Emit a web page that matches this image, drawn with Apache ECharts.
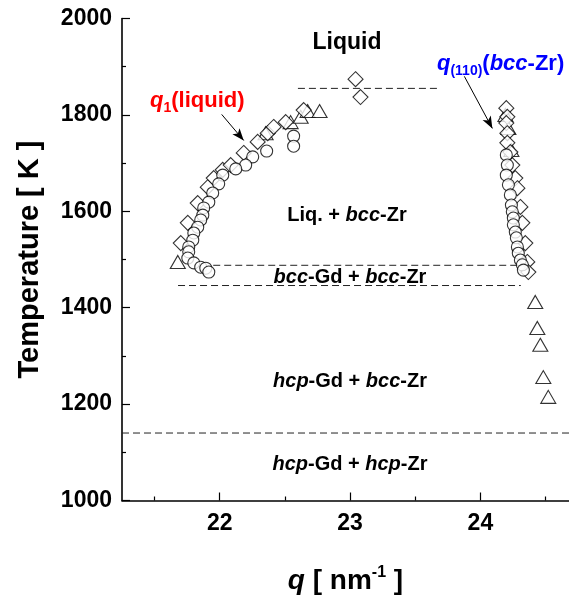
<!DOCTYPE html>
<html>
<head>
<meta charset="utf-8">
<script src="https://cdn.jsdelivr.net/npm/echarts@6/dist/echarts.min.js"></script>
<style>
  html, body { margin: 0; padding: 0; background: #fff; }
  #chart { width: 569px; height: 606px; }
</style>
</head>
<body>
<div id="chart"></div>
<script>
// ---- axis ticks ----
const xMajorTicks = [22, 23, 24];
const xMinorTicks = [21.5, 22.5, 23.5, 24.5];

// ---- q1 (liquid) branch: [q (nm^-1), T (K)] ----
const liquidCircles = [
  [22.567, 1756], [22.567, 1735], [22.360, 1725], [22.253, 1713], [22.199, 1696],
  [22.123, 1688], [22.023, 1675], [21.992, 1657], [21.946, 1638], [21.916, 1619],
  [21.877, 1607], [21.870, 1592], [21.854, 1582], [21.831, 1567], [21.801, 1555],
  [21.793, 1540], [21.762, 1526], [21.762, 1516], [21.755, 1503], [21.801, 1493],
  [21.854, 1484], [21.893, 1482], [21.916, 1474]
];
const liquidDiamonds = [
  [21.701, 1534], [21.755, 1576], [21.831, 1617], [21.908, 1650], [21.954, 1669],
  [22.023, 1686], [22.084, 1696], [22.184, 1721], [22.291, 1744], [22.368, 1762],
  [22.414, 1775], [22.506, 1785], [22.644, 1810], [23.042, 1874], [23.080, 1837]
];
const liquidTriangles = [
  [21.678, 1495], [22.352, 1762], [22.544, 1785], [22.621, 1796], [22.674, 1808],
  [22.766, 1808]
];

// ---- q(110) (bcc-Zr) branch: [q (nm^-1), T (K)] ----
const bccCircles = [
  [24.199, 1717], [24.207, 1696], [24.199, 1675], [24.215, 1655], [24.230, 1634],
  [24.238, 1613], [24.245, 1599], [24.253, 1586], [24.253, 1572], [24.268, 1557],
  [24.276, 1545], [24.284, 1526], [24.291, 1513], [24.307, 1499], [24.322, 1489],
  [24.330, 1478]
];
const bccDiamonds = [
  [24.199, 1814], [24.207, 1796], [24.199, 1783], [24.207, 1762], [24.207, 1742],
  [24.230, 1723], [24.245, 1696], [24.268, 1669], [24.284, 1648], [24.307, 1609],
  [24.322, 1576], [24.345, 1534], [24.360, 1495], [24.368, 1474]
];
const bccTriangles = [
  [24.192, 1800], [24.215, 1773], [24.238, 1727], [24.421, 1412], [24.437, 1358],
  [24.460, 1323], [24.483, 1256], [24.521, 1215]
];

// ---- phase boundaries (dashed): temperature and q span ----
const boundaryT      = [1855, 1488, 1446, 1140];
const boundaryQStart = [22.60, 21.95, 21.68, 21.25];
const boundaryQEnd   = [23.67, 24.28, 24.31, 24.68];

const FONT = '"Liberation Sans", Arial, Helvetica, sans-serif';
const chart = echarts.init(document.getElementById('chart'), null, { renderer: 'canvas' });

const hollow = (color) => ({ color: '#fff', borderColor: color, borderWidth: 1.1 });

function markerSeries(name, data, symbol, size, z) {
  return {
    name, type: 'scatter', data, symbol, symbolSize: size, z,
    itemStyle: hollow('#000'), silent: true, animation: false
  };
}

const boundarySeries = boundaryT.map((t, i) => ({
  type: 'line', data: [[boundaryQStart[i], t], [boundaryQEnd[i], t]],
  symbol: 'none', silent: true, animation: false, z: 1,
  lineStyle: { color: '#222', width: 1, type: [7, 4] }
}));

const arrowSeries = {
  type: 'line', data: [], silent: true, animation: false, z: 10,
  markLine: {
    silent: true, animation: false,
    symbol: ['none', 'arrow'], symbolSize: [7, 12],
    label: { show: false },
    lineStyle: { color: '#000', width: 1, type: 'solid' },
    itemStyle: { color: '#000' },
    data: [
      [{ coord: [22.015, 1801] }, { coord: [22.184, 1747] }],
      [{ coord: [23.877, 1880] }, { coord: [24.092, 1772] }]
    ]
  }
};

const rich = {
  n:  { fontFamily: FONT, fontWeight: 'bold', fontSize: 20, lineHeight: 26, verticalAlign: 'middle' },
  i:  { fontFamily: FONT, fontWeight: 'bold', fontStyle: 'italic', fontSize: 20, lineHeight: 26, verticalAlign: 'middle' }
};
const richQ = (color) => ({
  n: { fontFamily: FONT, fontWeight: 'bold', fontSize: 22, lineHeight: 28, verticalAlign: 'middle', fill: color },
  i: { fontFamily: FONT, fontWeight: 'bold', fontStyle: 'italic', fontSize: 22, lineHeight: 28, verticalAlign: 'middle', fill: color },
  s: { fontFamily: FONT, fontWeight: 'bold', fontSize: 14, lineHeight: 14, verticalAlign: 'bottom', fill: color }
});

function label(x, y, text, align, r, size) {
  return {
    type: 'text', x, y, silent: true, z: 100,
    style: {
      text, align: align || 'center', verticalAlign: 'middle',
      fontFamily: FONT, fontWeight: 'bold', fontSize: size || 20, fill: '#000',
      rich: r || rich
    }
  };
}

chart.setOption({
  animation: false,
  backgroundColor: '#fff',
  grid: { left: 122, right: 0, top: 18.5, bottom: 105.5, containLabel: false },
  xAxis: [
    {
      type: 'value', min: 21.25, max: 24.68,
      splitLine: { show: false },
      axisLine: { show: true, onZero: false, lineStyle: { color: '#000', width: 1.6 } },
      axisTick: { show: true, inside: true, length: 8, customValues: xMajorTicks, lineStyle: { color: '#000', width: 1.2 } },
      axisLabel: {
        customValues: xMajorTicks, margin: 12, formatter: (v) => String(v),
        fontFamily: FONT, fontWeight: 'bold', fontSize: 23, color: '#000'
      },
      name: '{q|q}{n| [ nm}{sup|-1}{n| ]}',
      nameLocation: 'middle', nameGap: 64,
      nameTextStyle: {
        rich: {
          q: { fontFamily: FONT, fontWeight: 'bold', fontStyle: 'italic', fontSize: 28, lineHeight: 34, verticalAlign: 'middle', color: '#000' },
          n: { fontFamily: FONT, fontWeight: 'bold', fontSize: 28, lineHeight: 34, verticalAlign: 'middle', color: '#000' },
          sup: { fontFamily: FONT, fontWeight: 'bold', fontSize: 16, lineHeight: 16, verticalAlign: 'top', color: '#000' }
        }
      }
    },
    {
      type: 'value', min: 21.25, max: 24.68, position: 'bottom',
      splitLine: { show: false },
      axisLine: { show: false },
      axisTick: { show: true, inside: true, length: 4, customValues: xMinorTicks, lineStyle: { color: '#000', width: 1.2 } },
      axisLabel: { show: false }
    }
  ],
  yAxis: {
    type: 'value', min: 1000, max: 2000, interval: 200,
    splitLine: { show: false },
    axisLine: { show: true, onZero: false, lineStyle: { color: '#000', width: 1.6 } },
    axisTick: { show: true, inside: true, length: 8, lineStyle: { color: '#000', width: 1.2 } },
    minorTick: { show: true, splitNumber: 2, length: 4, lineStyle: { color: '#000', width: 1.2 } },
    axisLabel: { margin: 10, formatter: (v) => String(v), fontFamily: FONT, fontWeight: 'bold', fontSize: 23, color: '#000' },
    name: 'Temperature [ K ]',
    nameLocation: 'middle', nameGap: 78, nameRotate: 90,
    nameTextStyle: { fontFamily: FONT, fontWeight: 'bold', fontSize: 29, color: '#000' }
  },
  series: [
    ...boundarySeries,
    markerSeries('liquid-tri', liquidTriangles, 'triangle', [15, 13], 2),
    markerSeries('bcc-tri', bccTriangles, 'triangle', [15, 13], 2),
    markerSeries('liquid-dia', liquidDiamonds, 'diamond', [15, 15], 3),
    markerSeries('bcc-dia', bccDiamonds, 'diamond', [15, 15], 3),
    markerSeries('liquid-cir', liquidCircles, 'circle', 12, 4),
    markerSeries('bcc-cir', bccCircles, 'circle', 12, 4),
    arrowSeries
  ],
  graphic: [
    label(347, 43, '{n|Liquid}', 'center', {
      n: { fontFamily: FONT, fontWeight: 'bold', fontSize: 23, lineHeight: 28, verticalAlign: 'middle' }
    }),
    label(150, 101, '{i|q}{s|1}{n|(liquid)}', 'left', richQ('#ff0000')),
    label(437, 64, '{i|q}{s|(110)}{n|(}{i|bcc}{n|-Zr)}', 'left', richQ('#0000ff')),
    label(347, 215, '{n|Liq. + }{i|bcc}{n|-Zr}'),
    label(350, 277, '{i|bcc}{n|-Gd + }{i|bcc}{n|-Zr}'),
    label(350, 381, '{i|hcp}{n|-Gd + }{i|bcc}{n|-Zr}'),
    label(350, 464, '{i|hcp}{n|-Gd + }{i|hcp}{n|-Zr}')
  ]
});
</script>
</body>
</html>
